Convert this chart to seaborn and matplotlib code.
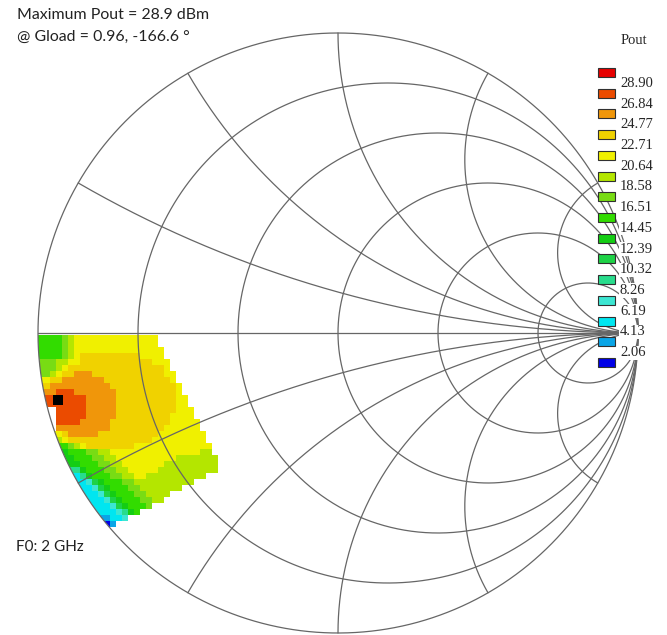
import numpy as np
import pandas as pd
import matplotlib
matplotlib.use("Agg")
import matplotlib.pyplot as plt
from matplotlib.colors import ListedColormap, BoundaryNorm
from matplotlib.patches import Circle, Rectangle
import seaborn as sns

# ------------------------------------------------------------------ data
LEVELS = [0.0, 2.06, 4.13, 6.19, 8.26, 10.32, 12.39, 14.45, 16.51,
          18.58, 20.64, 22.71, 24.77, 26.84, 28.90, 31.0]
LEVEL_CODES = "abcdefghijklmno"
LEVEL_COLORS = ["#0000E6", "#0AA5E6", "#00E6F0", "#3CE6D2", "#28DC8C",
                "#1ED246", "#14CD14", "#32DC00", "#78DC14", "#B4E600",
                "#F0F000", "#F0D200", "#F0960A", "#EB4B00", "#E60000"]
LEGEND_LABELS = ["28.90", "26.84", "24.77", "22.71", "20.64", "18.58", "16.51",
                 "14.45", "12.39", "10.32", "8.26", "6.19", "4.13", "2.06"]
R_VALUES = [0.2, 0.5, 1.0, 2.0, 5.0]
X_VALUES = [0.268, 0.577, 1.0, 1.732, 3.732]
MAX_POUT = 28.9
GLOAD_MAG = 0.96
GLOAD_ANG = -166.6
FREQ = "2 GHz"

# Pout band per load-pull grid cell (rows top->bottom, '.' = not measured)
POUT_MAP = [
    "hhhhijkkkkkkkkkkkkkk",
    "hhhhijkkkkkkkkkkkkkk",
    "hhhhijkkkkkkkkkkkkkkk",
    "hhhhijkllllllllllkkkk",
    "iiijjkkllllllllllllkkk",
    "iiijkllllllllllllllllk",
    "iijkllmmmllllllllllllkk",
    "kkllmmmmmmmlllllllllllk",
    "llmmmmmmmmmmlllllllllllk",
    "mmmnnnmmmmmmmllllllllllk",
    "nnnnnnnnmmmmmllllllllllkk",
    "nnnnnnnnmmmmmllllllllllkk",
    "...nnnnnmmmmmllllllllllkkk",
    "...nnnnnmmmmmlllllllllkkkk",
    "...nnnnmmmmmllllllllllkkkkk",
    "...mmmmmmmmmlllllllllkkkkkk",
    "..kklmmmmmllllllllllkkkkkkkk",
    "..jjkllllllllllllllkkkkkkkkk",
    "...hhijkllllllllkkkkkkkkkkkkk",
    "...gghhhiijjkkkkkkkkkkkkkkkjj",
    "....gghhhiijjkkkkkkkkkkjjjjjjj",
    "....ggghhhiijjkkkkkkkjjjjjjjjj",
    ".....eeghhhiijjkkkkkjjjjjjjjjj",
    ".....cceghhhiijjkkjjjjjjjjjj",
    "......ccdfghhhiijjjjjjjjjj",
    "......cccdfghhhiijjjjjjj",
    ".......cccdfghhhiijjjj",
    ".......ccccdfghhhiijj",
    "........ccccdfghhhi",
    ".........ccccdegh",
    "..........bbccd",
    "..........aab",
]

# ------------------------------------------------------------------ layout
W, H = 667, 635
CX, CY, RPX = 338, 333, 300          # chart centre / radius in pixels
GRID_X0, GRID_Y0, CELL, NCOL = -1.0, -2.0 / 300, 0.02, 31

sns.set_style("white")
plt.rcParams["font.family"] = ["Lato", "DejaVu Sans"]

fig = plt.figure(figsize=(W / 100, H / 100), dpi=100)
ax = fig.add_axes([0, 0, 1, 1], zorder=2)
ax.patch.set_alpha(0)
ax.set_xlim((0 - CX) / RPX, (W - CX) / RPX)
ax.set_ylim((CY - H) / RPX, CY / RPX)
ax.set_axis_off()

# --- load-pull surface via seaborn heatmap
mids = [(LEVELS[i] + LEVELS[i + 1]) / 2 for i in range(len(LEVEL_CODES))]
rows = [r.ljust(NCOL, ".") for r in POUT_MAP]
vals = np.array([[np.nan if ch == "." else mids[LEVEL_CODES.index(ch)] for ch in r]
                 for r in rows])
nrow = vals.shape[0]
gx0, gx1 = GRID_X0, GRID_X0 + NCOL * CELL
gy1, gy0 = GRID_Y0, GRID_Y0 - nrow * CELL
fx0 = (gx0 * RPX + CX) / W
fx1 = (gx1 * RPX + CX) / W
fy0 = 1 - (CY - gy0 * RPX) / H
fy1 = 1 - (CY - gy1 * RPX) / H
hax = fig.add_axes([fx0, fy0, fx1 - fx0, fy1 - fy0], zorder=1)
cmap = ListedColormap(LEVEL_COLORS)
norm = BoundaryNorm(LEVELS, cmap.N)
sns.heatmap(pd.DataFrame(vals), mask=np.isnan(vals), cmap=cmap, norm=norm,
            cbar=False, ax=hax, xticklabels=False, yticklabels=False)
hax.set_axis_off()
mesh = hax.collections[0]
mesh.set_clip_path(Circle((0, 0), 1.0, transform=ax.transData))

# --- Smith chart grid
lc, lw = "#666666", 0.9
t = np.linspace(0, 2 * np.pi, 720)
ax.plot(np.cos(t), np.sin(t), color=lc, lw=lw, zorder=3)
ax.plot([-1, 1], [0, 0], color=lc, lw=lw, zorder=3)
for r in R_VALUES:
    c, rad = r / (1 + r), 1 / (1 + r)
    ax.plot(c + rad * np.cos(t), rad * np.sin(t), color=lc, lw=lw, zorder=3)
rr = np.tan(np.linspace(0, np.pi / 2 * 0.99995, 1500))
for xv in X_VALUES:
    for s in (1, -1):
        z = rr + 1j * s * xv
        g = (z - 1) / (z + 1)
        ax.plot(g.real, g.imag, color=lc, lw=lw, zorder=3)

# --- maximum point
ang = np.deg2rad(GLOAD_ANG)
sns.scatterplot(x=[GLOAD_MAG * np.cos(ang)], y=[GLOAD_MAG * np.sin(ang)], ax=ax,
                marker="s", s=44, color="black", linewidth=0, zorder=6)
ax.set_xlim((0 - CX) / RPX, (W - CX) / RPX)
ax.set_ylim((CY - H) / RPX, CY / RPX)
ax.set_axis_off()

# --- annotations
def fxy(px, py):
    return px / W, 1 - py / H

fig.text(*fxy(17, 15), f"Maximum Pout = {MAX_POUT} dBm", fontsize=11.4,
         va="center", ha="left", color="#222222")
fig.text(*fxy(17, 37), f"@ Gload = {GLOAD_MAG}, {GLOAD_ANG} \u00b0", fontsize=11.4,
         va="center", ha="left", color="#222222")
fig.text(*fxy(16, 547), f"F0: {FREQ}", fontsize=11, va="center", ha="left",
         color="#222222")

# --- legend
serif = ["Liberation Serif", "DejaVu Serif"]
fig.text(*fxy(621, 41), "Pout", family=serif, fontsize=10.5, va="center",
         ha="left", zorder=10)
box_top, box_step, box_h, box_w = 68.0, 20.72, 9.0, 17.0
for i, col in enumerate(LEVEL_COLORS[::-1]):
    top = box_top + box_step * i
    x0, y0 = fxy(598, top + box_h)
    fig.add_artist(Rectangle((x0, y0), box_w / W, box_h / H, transform=fig.transFigure,
                             facecolor=col, edgecolor="#303030", lw=0.8, zorder=10))
for i, lab in enumerate(LEGEND_LABELS):
    fig.text(*fxy(620, 83.3 + box_step * i), lab, family=serif, fontsize=10.5,
             va="center", ha="left", zorder=10,
             bbox=dict(facecolor="white", edgecolor="none", pad=0.4))

fig.savefig("out.png", dpi=100)
